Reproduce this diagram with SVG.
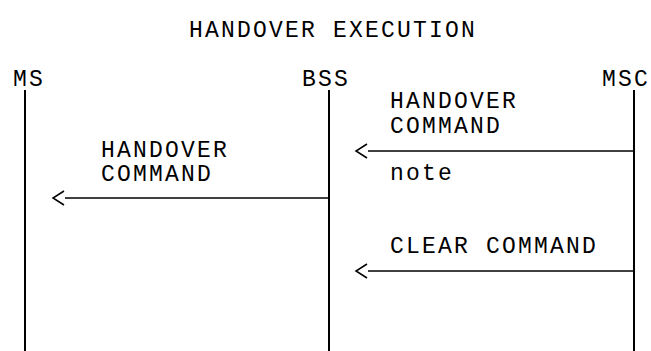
<svg xmlns="http://www.w3.org/2000/svg" width="651" height="351" viewBox="0 0 651 351">
  <style>
    text { font-family: "Liberation Mono", "Courier New", monospace; font-size: 23px; letter-spacing: 2.2px; fill: #000; }
    .life { stroke: #000; stroke-width: 2; fill: none; }
    .msg { stroke: #000; stroke-width: 1.6; fill: none; }
  </style>
  <defs>
    <marker id="chev" markerUnits="userSpaceOnUse" markerWidth="20" markerHeight="20" refX="0" refY="0" orient="auto" overflow="visible">
      <path d="M1,-7 L12,0 L1,7" fill="none" stroke="#000" stroke-width="1.5"/>
    </marker>
  </defs>
  <rect width="651" height="351" fill="#fff"/>
  <text id="title" x="189" y="37">HANDOVER EXECUTION</text>
  <g id="MS">
    <text x="13" y="86">MS</text>
    <line class="life" x1="25" y1="90" x2="25" y2="351"/>
  </g>
  <g id="BSS">
    <text x="302" y="86">BSS</text>
    <line class="life" x1="329" y1="90" x2="329" y2="351"/>
  </g>
  <g id="MSC">
    <text x="602" y="86">MSC</text>
    <line class="life" x1="634" y1="90" x2="634" y2="351"/>
  </g>
  <g id="connectors">
    <line class="msg" x1="634" y1="151" x2="368" y2="151" marker-end="url(#chev)"/>
    <line class="msg" x1="329" y1="198" x2="65" y2="198" marker-end="url(#chev)"/>
    <line class="msg" x1="634" y1="271" x2="368" y2="271" marker-end="url(#chev)"/>
  </g>
  <g id="labels">
    <text x="390" y="108">HANDOVER</text>
    <text x="390" y="133">COMMAND</text>
    <text x="390" y="180">note</text>
    <text x="101" y="157">HANDOVER</text>
    <text x="101" y="181">COMMAND</text>
    <text x="390" y="253">CLEAR COMMAND</text>
  </g>
</svg>
